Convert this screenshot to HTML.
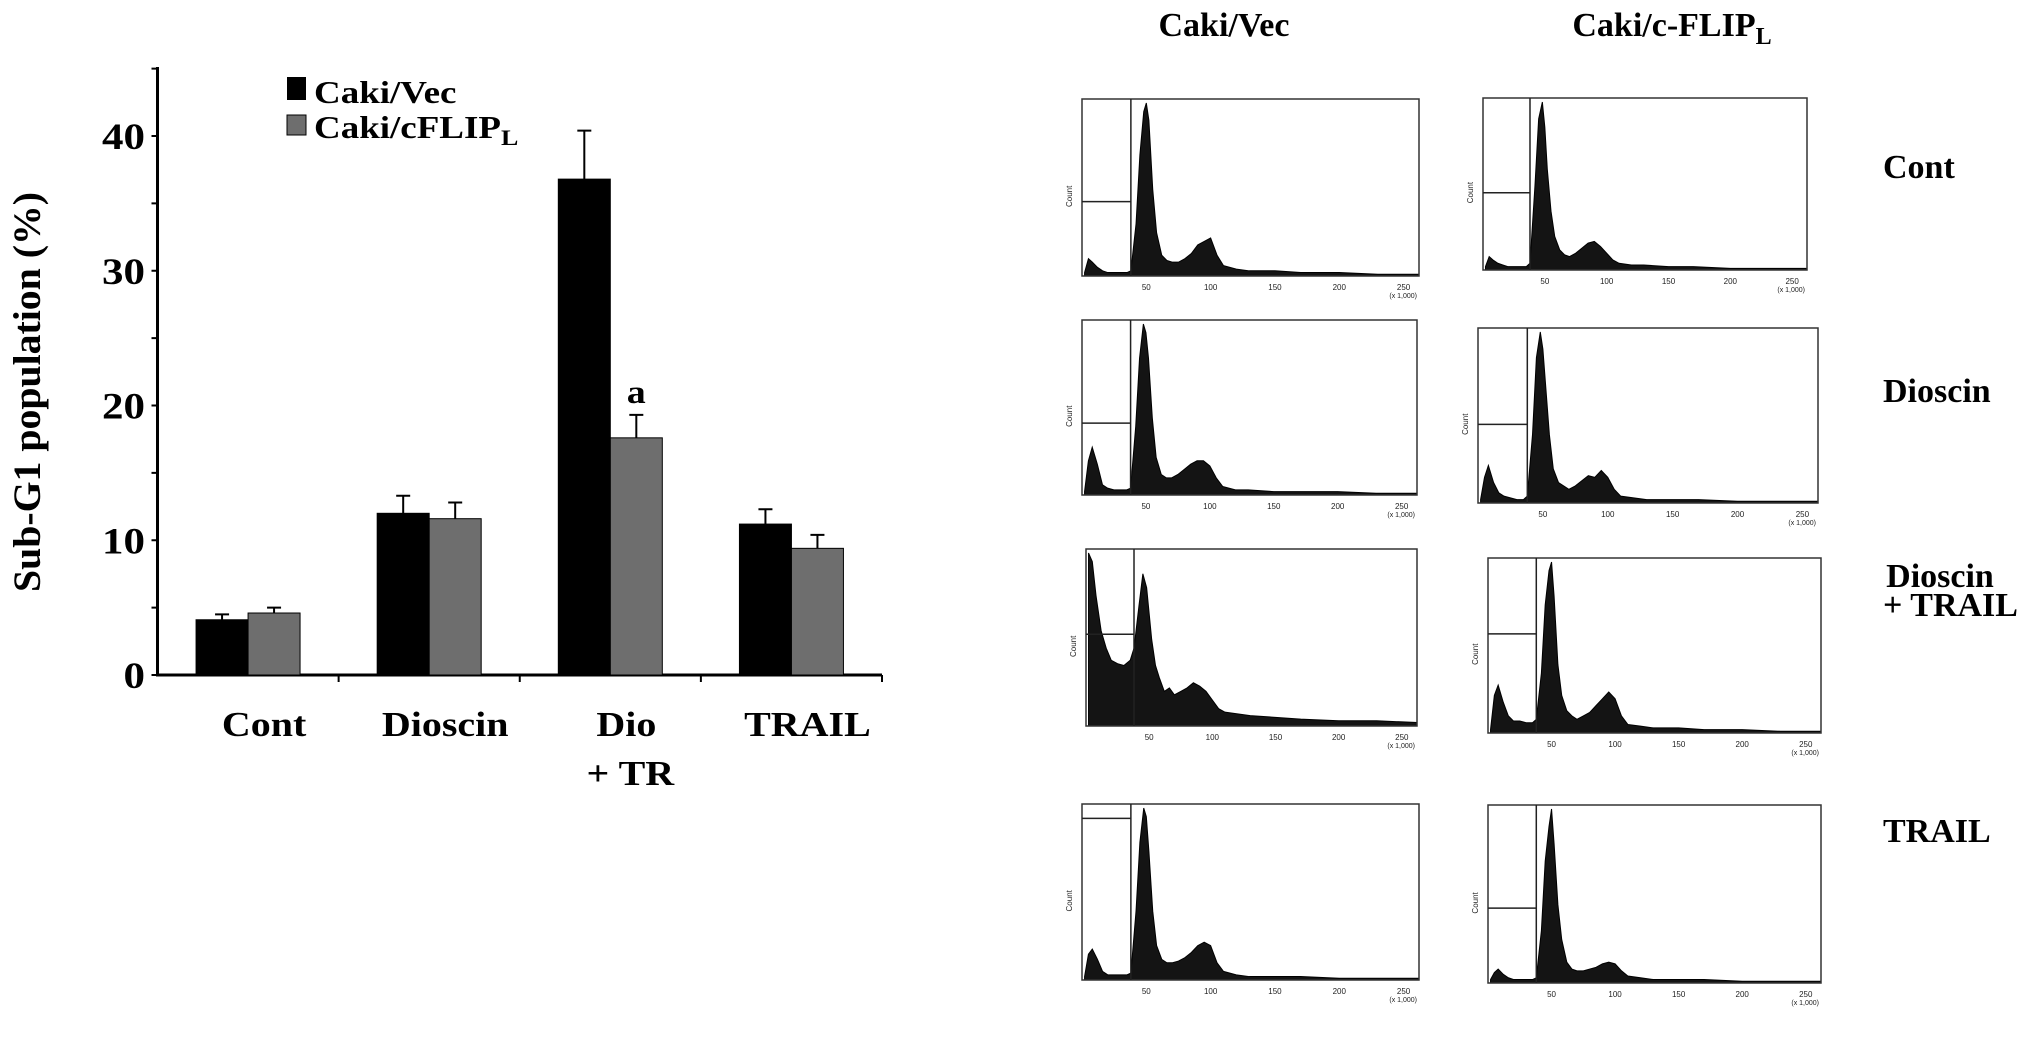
<!DOCTYPE html>
<html><head><meta charset="utf-8"><style>
html,body{margin:0;padding:0;background:#fff;}
svg{display:block;font-family:"Liberation Serif",serif;}
</style></head><body>
<svg id="fig" width="2031" height="1061" viewBox="0 0 2031 1061" xmlns="http://www.w3.org/2000/svg">
<g id="bar-chart"></g>
<g id="hists"></g>
<g font-weight="bold" font-size="34">
<text x="1224" y="36" text-anchor="middle">Caki/Vec</text>
<text x="1672" y="36" text-anchor="middle">Caki/c-FLIP<tspan font-size="24" dy="8">L</tspan></text>
<text x="1883" y="178">Cont</text>
<text x="1883" y="402">Dioscin</text>
<text x="1940" y="587" text-anchor="middle">Dioscin</text>
<text x="1883" y="616">+ TRAIL</text>
<text x="1883" y="842">TRAIL</text>
</g>
</svg>
<script>
// ---- Bar chart data ----
const categories = ["Cont","Dioscin","Dio","TRAIL"];
const vecValues = [4.1, 12.0, 36.8, 11.2];
const vecErrors = [0.4, 1.3, 3.6, 1.1];
const flipValues = [4.6, 11.6, 17.6, 9.4];
const flipErrors = [0.4, 1.2, 1.7, 1.0];
const yTicks = [0, 10, 20, 30, 40];
const yMinorTicks = [5, 15, 25, 35, 45];

// ---- Histogram data (x in 1,000s; height as fraction of panel) ----
const histX = [2,5,8,12,16,20,25,30,35,38,42,45,48,50,52,55,58,62,66,70,75,80,85,90,95,100,105,110,120,130,150,170,200,230,262];
const histVecCont = [0.02,0.1,0.08,0.05,0.03,0.02,0.02,0.02,0.02,0.03,0.3,0.7,0.95,1.0,0.9,0.5,0.25,0.12,0.09,0.08,0.08,0.1,0.13,0.18,0.2,0.22,0.12,0.06,0.04,0.03,0.03,0.02,0.02,0.01,0.01];
const histFlipCont = [0.02,0.08,0.06,0.04,0.03,0.02,0.02,0.02,0.02,0.04,0.5,0.9,1.0,0.85,0.6,0.35,0.2,0.12,0.09,0.08,0.1,0.13,0.16,0.17,0.14,0.1,0.06,0.04,0.03,0.03,0.02,0.02,0.01,0.01,0.01];
const histVecDio = [0.02,0.2,0.28,0.18,0.06,0.04,0.03,0.03,0.03,0.04,0.4,0.8,1.0,0.95,0.8,0.45,0.22,0.12,0.1,0.1,0.12,0.15,0.18,0.2,0.2,0.17,0.1,0.05,0.03,0.03,0.02,0.02,0.02,0.01,0.01];
const histFlipDio = [0.02,0.15,0.22,0.12,0.06,0.04,0.03,0.02,0.02,0.04,0.4,0.85,1.0,0.9,0.7,0.4,0.2,0.12,0.1,0.08,0.1,0.13,0.16,0.15,0.19,0.15,0.08,0.04,0.03,0.02,0.02,0.02,0.01,0.01,0.01];
const histVecDioTr = [1.0,0.95,0.75,0.55,0.45,0.38,0.36,0.35,0.38,0.45,0.7,0.88,0.8,0.65,0.5,0.35,0.28,0.2,0.22,0.18,0.2,0.22,0.25,0.23,0.2,0.15,0.1,0.08,0.07,0.06,0.05,0.04,0.03,0.03,0.02];
const histFlipDioTr = [0.02,0.22,0.28,0.18,0.1,0.07,0.07,0.06,0.06,0.08,0.35,0.75,0.95,1.0,0.8,0.4,0.22,0.13,0.1,0.08,0.1,0.12,0.16,0.2,0.24,0.2,0.1,0.05,0.04,0.03,0.03,0.02,0.02,0.01,0.01];
const histVecTrail = [0.02,0.15,0.18,0.12,0.05,0.03,0.03,0.03,0.03,0.04,0.4,0.8,1.0,0.95,0.75,0.4,0.2,0.12,0.1,0.1,0.11,0.13,0.16,0.2,0.22,0.2,0.1,0.05,0.03,0.02,0.02,0.02,0.01,0.01,0.01];
const histFlipTrail = [0.02,0.06,0.08,0.05,0.03,0.02,0.02,0.02,0.02,0.03,0.3,0.7,0.9,1.0,0.8,0.45,0.25,0.12,0.08,0.07,0.07,0.08,0.09,0.11,0.12,0.11,0.07,0.04,0.03,0.02,0.02,0.02,0.01,0.01,0.01];
const gateLevels = [0.43,0.46,0.42,0.46,0.53,0.58,0.94,0.43];

const NS = "http://www.w3.org/2000/svg";
function mk(tag, attrs, parent){
  const e = document.createElementNS(NS, tag);
  for (const k in attrs) e.setAttribute(k, attrs[k]);
  parent.appendChild(e);
  return e;
}
const SQ = 0.87; // vertical squash of left panel text

// ---- Bar chart ----
const bc = document.getElementById('bar-chart');
const X0 = 157.5, X1 = 882, Y0 = 675, PX = 13.475;
const catW = (X1 - X0) / categories.length;
const barW = 52;
function yScale(v){ return Y0 - v * PX; }
function xCenter(i){ return X0 + catW * (i + 0.5); }
function txt(x, y, str, size, anchor, parent){
  const t = mk('text', {x:0, y:0, transform:`translate(${x},${y}) scale(1,${SQ})`, 'text-anchor':anchor, 'font-size':size, 'font-weight':'bold'}, parent);
  t.textContent = str;
  return t;
}

const yAxis = mk('line', {x1:X0, y1:67, x2:X0, y2:Y0+1.5, stroke:'#000', 'stroke-width':3}, bc);


const xAxis = mk('line', {x1:X0-1.5, y1:Y0, x2:X1, y2:Y0, stroke:'#000', 'stroke-width':3}, bc);



yTicks.forEach(t => {
  const y = yScale(t);
  const tk = mk('line', {x1:X0-6, y1:y, x2:X0, y2:y, stroke:'#000', 'stroke-width':2}, bc);
  
  
  const lb = txt(145, y+13, String(t), 43, 'end', bc);
  
  
});
yMinorTicks.forEach(t => {
  const y = yScale(t);
  const tk = mk('line', {x1:X0-6, y1:y, x2:X0, y2:y, stroke:'#000', 'stroke-width':2}, bc);
  
  
});
for (let i = 1; i <= categories.length; i++) {
  const x = X0 + catW * i;
  const tk = mk('line', {x1:x, y1:Y0, x2:x, y2:Y0+7, stroke:'#000', 'stroke-width':2}, bc);
  
  
}

const ytitle = mk('text', {x:0, y:0, transform:'translate(40,392) rotate(-90) scale(1.02,1)', 'text-anchor':'middle', 'font-size':39, 'font-weight':'bold'}, bc);
ytitle.textContent = 'Sub-G1 population (%)';



categories.forEach((c, i) => {
  const cx = xCenter(i);
  const draw = (v, err, x, fill, name) => {
    const r = mk('rect', {x:x, y:yScale(v), width:barW, height:Y0-yScale(v), fill:fill, stroke:'#000', 'stroke-width':1}, bc);
    
    
    const ex = x + barW/2;
    const el = mk('path', {d:`M${ex},${yScale(v)} V${yScale(v+err)} M${ex-7},${yScale(v+err)} H${ex+7}`, stroke:'#000', 'stroke-width':2, fill:'none'}, bc);
    
    
  };
  draw(vecValues[i], vecErrors[i], cx - barW, '#000', 'bar-vec-' + c.toLowerCase());
  draw(flipValues[i], flipErrors[i], cx, '#6e6e6e', 'bar-cflip-' + c.toLowerCase());
  const lb = txt(cx+16, 736, c, 40, 'middle', bc);
  
  
});
const lb2 = txt(xCenter(2)+20, 785, '+ TR', 40, 'middle', bc);



const sig = txt(xCenter(2)+barW/2, yScale(flipValues[2]+flipErrors[2])-12, 'a', 38, 'middle', bc);



// legend
const lg = mk('g', {}, bc);


const s1 = mk('rect', {x:287, y:77, width:19, height:23, fill:'#000'}, lg);


const t1 = txt(314, 103, 'Caki/Vec', 37, 'start', lg);


const s2 = mk('rect', {x:287, y:115, width:19, height:20, fill:'#6e6e6e', stroke:'#000', 'stroke-width':1}, lg);


const t2 = txt(314, 138, '', 37, 'start', lg);
t2.innerHTML = 'Caki/cFLIP<tspan font-size="26" dy="8">L</tspan>';



// ---- Histograms ----
const hg = document.getElementById('hists');
const panels = [
  {x:1082,y:99,w:337,h:177,d:histVecCont,n:'hist-vec-cont'},
  {x:1483,y:98,w:324,h:172,d:histFlipCont,n:'hist-cflip-cont'},
  {x:1082,y:320,w:335,h:175,d:histVecDio,n:'hist-vec-dioscin'},
  {x:1478,y:328,w:340,h:175,d:histFlipDio,n:'hist-cflip-dioscin'},
  {x:1086,y:549,w:331,h:177,d:histVecDioTr,n:'hist-vec-dioscin-trail'},
  {x:1488,y:558,w:333,h:175,d:histFlipDioTr,n:'hist-cflip-dioscin-trail'},
  {x:1082,y:804,w:337,h:176,d:histVecTrail,n:'hist-vec-trail'},
  {x:1488,y:805,w:333,h:178,d:histFlipTrail,n:'hist-cflip-trail'}
];
panels.forEach((p, k) => {
  const g = mk('g', {}, hg);
  
  
  const hx = v => p.x + v / 262 * p.w;
  const hy = f => p.y + p.h - f * (p.h - 4);
  let d = `M${hx(histX[0])},${p.y+p.h}`;
  histX.forEach((xv, i) => { d += ` L${hx(xv)},${hy(p.d[i])}`; });
  d += ` L${hx(262)},${p.y+p.h} Z`;
  const area = mk('path', {d:d, fill:'#141414', stroke:'#000', 'stroke-width':1}, g);
  
  
  const box = mk('rect', {x:p.x, y:p.y, width:p.w, height:p.h, fill:'none', stroke:'#333', 'stroke-width':1.5}, g);
  
  
  const gx = hx(38);
  const gate = mk('path', {d:`M${gx},${p.y} V${p.y+p.h} M${p.x},${hy(gateLevels[k])} H${gx}`, stroke:'#222', 'stroke-width':1.5, fill:'none'}, g);
  
  
  [50,100,150,200,250].forEach(t => {
    const tl = mk('text', {x:hx(t), y:p.y+p.h+14, 'text-anchor':'middle', 'font-size':8, 'font-family':'Liberation Sans, sans-serif', fill:'#222'}, g);
    tl.textContent = t;
    
    
  });
  const u = mk('text', {x:p.x+p.w-2, y:p.y+p.h+22, 'text-anchor':'end', 'font-size':7, 'font-family':'Liberation Sans, sans-serif', fill:'#222'}, g);
  u.textContent = '(x 1,000)';
  
  
  const c = mk('text', {x:0, y:0, transform:`translate(${p.x-10},${p.y+p.h*0.55}) rotate(-90)`, 'text-anchor':'middle', 'font-size':8, 'font-family':'Liberation Sans, sans-serif', fill:'#222'}, g);
  c.textContent = 'Count';
  
  
});
</script>
</body></html>
